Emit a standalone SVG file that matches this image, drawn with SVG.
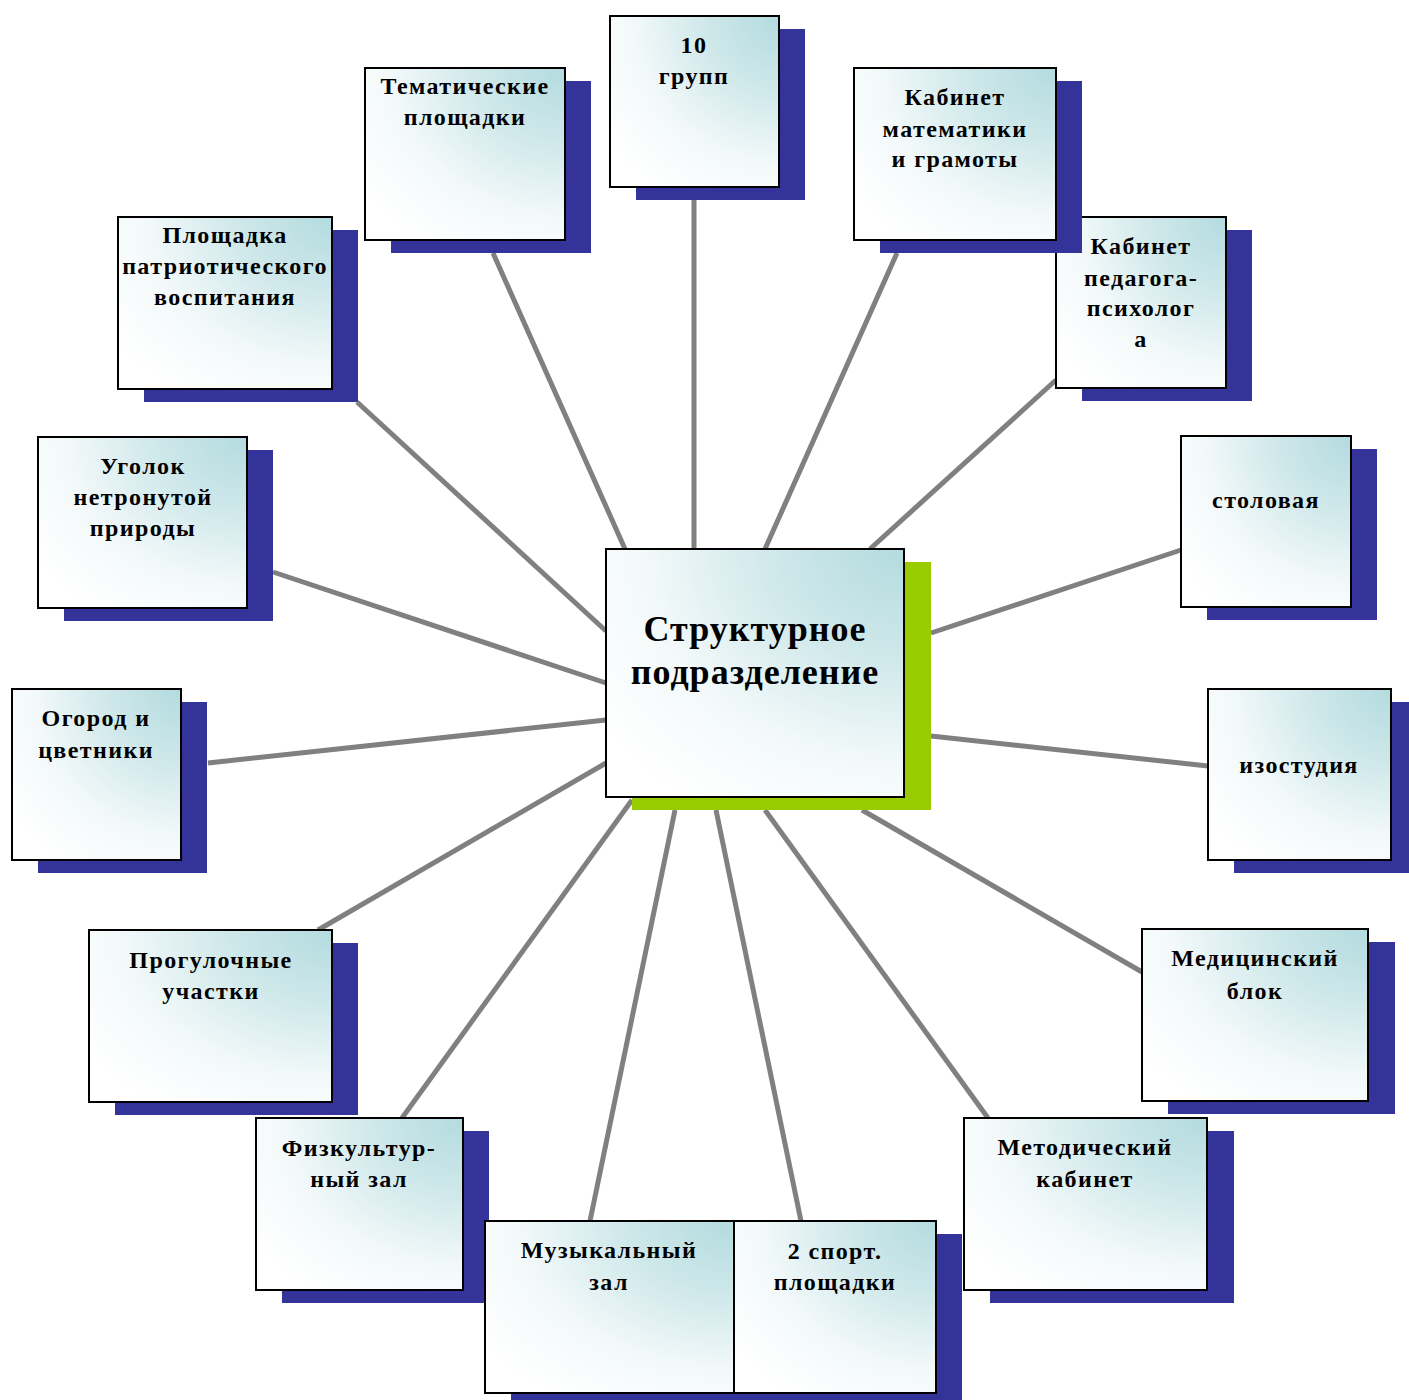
<svg xmlns="http://www.w3.org/2000/svg" width="1409" height="1400" viewBox="0 0 1409 1400">
<defs>
<radialGradient id="g" cx="1" cy="0" r="1.25" gradientUnits="objectBoundingBox">
<stop offset="0" stop-color="#b3dbdf"/>
<stop offset="0.35" stop-color="#cfe8ea"/>
<stop offset="0.7" stop-color="#f3f9fa"/>
<stop offset="1" stop-color="#ffffff"/>
</radialGradient>
</defs>
<style>
.sh{fill:#333399}
.shg{fill:#99cc00}
.bx{fill:url(#g);stroke:#000;stroke-width:2}
.t{font-family:"Liberation Serif","Times New Roman",serif;font-weight:bold;font-size:24px;letter-spacing:1.4px;fill:#000;text-anchor:middle}
.tc{font-size:36px;letter-spacing:1px}
.c line{stroke:#808080;stroke-width:5}
</style>
<rect width="1409" height="1400" fill="#fff"/>
<g class="c" id="connectors">
<line x1="694" y1="200" x2="694" y2="549"/>
<line x1="493" y1="253" x2="625" y2="549"/>
<line x1="897" y1="253" x2="765" y2="549"/>
<line x1="1056" y1="380" x2="870" y2="549"/>
<line x1="357" y1="402" x2="606" y2="631"/>
<line x1="273" y1="572" x2="606" y2="683"/>
<line x1="1181" y1="550" x2="931" y2="633"/>
<line x1="208" y1="763" x2="606" y2="720"/>
<line x1="931" y1="736" x2="1208" y2="766"/>
<line x1="318" y1="930" x2="606" y2="763"/>
<line x1="862" y1="810" x2="1142" y2="972"/>
<line x1="402" y1="1118" x2="632" y2="800"/>
<line x1="765" y1="810" x2="988" y2="1118"/>
<line x1="675" y1="810" x2="590" y2="1221"/>
<line x1="716" y1="810" x2="801" y2="1221"/>
</g>
<g id="center">
<rect class="shg" x="632" y="562" width="299" height="248"/>
<rect class="bx" x="606" y="549" width="298" height="248"/>
<text class="t tc" x="755" y="641">Структурное</text>
<text class="t tc" x="755" y="684">подразделение</text>
</g>
<g id="n10">
<rect class="sh" x="636" y="29" width="169" height="171"/>
<rect class="bx" x="610" y="16" width="169" height="171"/>
<text class="t" x="694" y="53">10</text>
<text class="t" x="694" y="84">групп</text>
</g>
<g id="ntem">
<rect class="sh" x="391" y="81" width="200" height="172"/>
<rect class="bx" x="365" y="68" width="200" height="172"/>
<text class="t" x="465" y="94">Тематические</text>
<text class="t" x="465" y="125">площадки</text>
</g>
<g id="npsy">
<rect class="sh" x="1082" y="230" width="170" height="171"/>
<rect class="bx" x="1056" y="217" width="170" height="171"/>
<text class="t" x="1141" y="254">Кабинет</text>
<text class="t" x="1141" y="286">педагога-</text>
<text class="t" x="1141" y="316">психолог</text>
<text class="t" x="1141" y="347">а</text>
</g>
<g id="nmath">
<rect class="sh" x="880" y="81" width="202" height="172"/>
<rect class="bx" x="854" y="68" width="202" height="172"/>
<text class="t" x="955" y="105">Кабинет</text>
<text class="t" x="955" y="137">математики</text>
<text class="t" x="955" y="167">и грамоты</text>
</g>
<g id="npat">
<rect class="sh" x="144" y="230" width="214" height="172"/>
<rect class="bx" x="118" y="217" width="214" height="172"/>
<text class="t" x="225" y="243">Площадка</text>
<text class="t" x="225" y="274">патриотического</text>
<text class="t" x="225" y="305">воспитания</text>
</g>
<g id="nugol">
<rect class="sh" x="64" y="450" width="209" height="171"/>
<rect class="bx" x="38" y="437" width="209" height="171"/>
<text class="t" x="143" y="474">Уголок</text>
<text class="t" x="143" y="505">нетронутой</text>
<text class="t" x="143" y="536">природы</text>
</g>
<g id="nstol">
<rect class="sh" x="1207" y="449" width="170" height="171"/>
<rect class="bx" x="1181" y="436" width="170" height="171"/>
<text class="t" x="1266" y="508">столовая</text>
</g>
<g id="nogor">
<rect class="sh" x="38" y="702" width="169" height="171"/>
<rect class="bx" x="12" y="689" width="169" height="171"/>
<text class="t" x="96" y="726">Огород и</text>
<text class="t" x="96" y="758">цветники</text>
</g>
<g id="niz">
<rect class="sh" x="1234" y="702" width="175" height="171"/>
<rect class="bx" x="1208" y="689" width="183" height="171"/>
<text class="t" x="1299" y="773">изостудия</text>
</g>
<g id="nprog">
<rect class="sh" x="115" y="943" width="243" height="172"/>
<rect class="bx" x="89" y="930" width="243" height="172"/>
<text class="t" x="211" y="968">Прогулочные</text>
<text class="t" x="211" y="999">участки</text>
</g>
<g id="nmed">
<rect class="sh" x="1168" y="942" width="227" height="172"/>
<rect class="bx" x="1142" y="929" width="226" height="172"/>
<text class="t" x="1255" y="966">Медицинский</text>
<text class="t" x="1255" y="999">блок</text>
</g>
<g id="nfiz">
<rect class="sh" x="282" y="1131" width="207" height="172"/>
<rect class="bx" x="256" y="1118" width="207" height="172"/>
<text class="t" x="359" y="1156">Физкультур-</text>
<text class="t" x="359" y="1187">ный зал</text>
</g>
<g id="nmet">
<rect class="sh" x="990" y="1131" width="244" height="172"/>
<rect class="bx" x="964" y="1118" width="243" height="172"/>
<text class="t" x="1085" y="1155">Методический</text>
<text class="t" x="1085" y="1187">кабинет</text>
</g>
<g id="nmus">
<rect class="sh" x="511" y="1234" width="249" height="172"/>
<rect class="bx" x="485" y="1221" width="249" height="172"/>
<text class="t" x="609" y="1258">Музыкальный</text>
<text class="t" x="609" y="1290">зал</text>
</g>
<g id="nsport">
<rect class="sh" x="760" y="1234" width="202" height="172"/>
<rect class="bx" x="734" y="1221" width="202" height="172"/>
<text class="t" x="835" y="1259">2 спорт.</text>
<text class="t" x="835" y="1290">площадки</text>
</g>
</svg>
